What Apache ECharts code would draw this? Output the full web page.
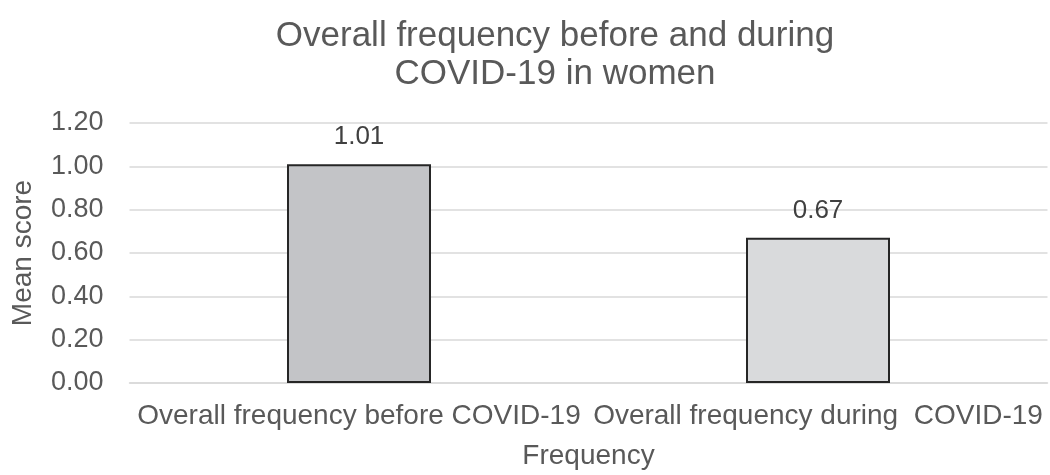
<!DOCTYPE html>
<html>
<head>
<meta charset="utf-8">
<script src="https://cdn.jsdelivr.net/npm/echarts@6/dist/echarts.min.js"></script>
<style>
html,body{margin:0;padding:0;background:#fff;}
#chart{width:1050px;height:475px;}
</style>
</head>
<body>
<div id="chart"></div>
<script>
const categories = ['Overall frequency before COVID-19', 'Overall frequency during  COVID-19'];
const meanScores = [1.01, 0.67];
const barColors = ['#c3c4c7', '#d9dadc'];
const yTicks = [0, 0.2, 0.4, 0.6, 0.8, 1.0, 1.2];

const FONT = '"Liberation Sans", Arial, sans-serif';
const chart = echarts.init(document.getElementById('chart'), null, {renderer: 'canvas'});
chart.setOption({
  backgroundColor: '#ffffff',
  animation: false,
  title: {
    text: 'Overall frequency before and during\nCOVID-19 in women',
    left: 550, textAlign: 'center',
    top: 12,
    textStyle: {fontFamily: FONT, fontSize: 35, fontWeight: 'normal', color: '#595959', lineHeight: 38}
  },
  grid: {left: 129.5, right: 2.5, top: 123, bottom: 92, containLabel: false},
  xAxis: {
    type: 'category',
    data: categories,
    name: 'Frequency',
    nameLocation: 'middle',
    nameGap: 59,
    nameTextStyle: {fontFamily: FONT, fontSize: 28, color: '#595959'},
    axisLine: {show: true, lineStyle: {color: '#d9d9d9', width: 1.5}},
    axisTick: {show: false},
    axisLabel: {fontFamily: FONT, fontSize: 28, color: '#595959', margin: 19, interval: 0}
  },
  yAxis: {
    type: 'value',
    min: yTicks[0],
    max: yTicks[yTicks.length - 1],
    interval: 0.2,
    name: 'Mean score',
    nameLocation: 'middle',
    nameGap: 92,
    nameTextStyle: {fontFamily: FONT, fontSize: 28, color: '#595959'},
    axisLine: {show: false},
    axisTick: {show: false},
    splitLine: {lineStyle: {color: '#d9d9d9', width: 1.5}},
    axisLabel: {fontFamily: FONT, fontSize: 27, color: '#595959', margin: 26,
      formatter: v => v.toFixed(2)}
  },
  series: [{
    type: 'bar',
    barWidth: 144,
    data: meanScores.map((v, i) => ({value: v, itemStyle: {color: barColors[i]}})),
    itemStyle: {borderColor: '#262626', borderWidth: 2},
    label: {show: true, position: 'top', distance: 14, fontFamily: FONT, fontSize: 26, color: '#404040',
      formatter: p => p.value.toFixed(2)}
  }]
});
</script>
</body>
</html>
